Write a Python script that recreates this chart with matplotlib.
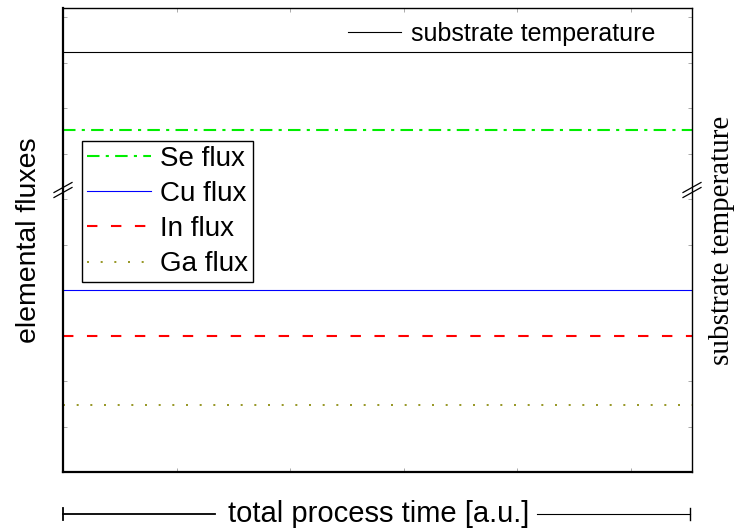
import matplotlib
matplotlib.use("Agg")
import matplotlib.pyplot as plt
from matplotlib.lines import Line2D
import numpy as np

# values (arbitrary units)
time_span = [0, 5.54]
substrate_temp = 9.23
flux_names = ["Se flux", "Cu flux", "In flux", "Ga flux"]
flux_levels = [7.52, 4.0, 2.99, 1.47]
flux_colors = ["#00ee00", "#0000ff", "#ff0000", "#858500"]

plt.rcParams["font.family"] = ["Liberation Sans", "DejaVu Sans"]

fig = plt.figure(figsize=(7.37, 5.29), dpi=100)
ax = fig.add_axes([63 / 737, 57 / 529, 629 / 737, 464 / 529])

# substrate temperature
t_line, = ax.plot(time_span, [substrate_temp] * 2, color="black", lw=0.8)

styles = [dict(lw=1.5, dashes=(6, 3, 1.5, 3)),
          dict(lw=0.8, linestyle="-"),
          dict(lw=1.5, dashes=(5, 6.5)),
          dict(lw=1.2, dashes=(1.2, 7.0))]
handles = []
for name, lvl, col, st in zip(flux_names, flux_levels, flux_colors, styles):
    h, = ax.plot(time_span, [lvl, lvl], color=col, label=name, **st)
    handles.append(h)

ax.set_xlim(time_span)
ax.set_ylim(0, 10.2)
ax.set_xticks(np.arange(0, 6))
ax.set_yticks(np.arange(0, 11))
ax.tick_params(direction="in", length=3, width=0.5, color="#888888",
               labelbottom=False, labelleft=False, top=True, right=True)
for s in ["left", "bottom"]:
    ax.spines[s].set_linewidth(1.6)
for s in ["top", "right"]:
    ax.spines[s].set_linewidth(1.0)

leg1 = ax.legend([t_line], ["substrate temperature"], loc="upper right",
                 bbox_to_anchor=(0.969, 1.008), frameon=False, fontsize=18,
                 handlelength=2.1, handletextpad=0.4, borderaxespad=0.3)
ax.add_artist(leg1)

leg2 = ax.legend(handles=handles, loc="upper left",
                 bbox_to_anchor=((82 - 63) / 629, (472 - 141) / 464),
                 fontsize=20, handlelength=2.3, handletextpad=0.35,
                 labelspacing=0.33, borderpad=0.17, borderaxespad=0,
                 fancybox=False, framealpha=1, edgecolor="black")
leg2.get_frame().set_linewidth(1.0)

# axis break marks
W, H = 629.0, 464.0
yb = (472 - 190) / H
for xb in [0, 1]:
    for off in [-2.5, 2.5]:
        ax.add_line(Line2D([xb - 9 / W, xb + 9 / W],
                           [yb + (off - 5) / H, yb + (off + 5) / H],
                           transform=ax.transAxes, color="black", lw=0.9,
                           clip_on=False))

ax.set_ylabel("elemental fluxes", fontsize=20.5, labelpad=15)
fig.text(722 / 737, 1 - 240 / 529, "substrate temperature", rotation=90,
         ha="center", va="center", fontsize=21, family="Liberation Serif")

# time arrow under the axes
ya = 1 - 514 / 529
fig.add_artist(Line2D([63 / 737, 215 / 737], [ya, ya], color="black", lw=1.3))
fig.add_artist(Line2D([537 / 737, 690 / 737], [ya, ya], color="black", lw=0.8))
fig.add_artist(Line2D([63 / 737] * 2, [ya - 6 / 529, ya + 6 / 529], color="black", lw=1.3))
fig.add_artist(Line2D([690 / 737] * 2, [ya - 6 / 529, ya + 6 / 529], color="black", lw=1.0))
fig.text(379 / 737, 1 - 522 / 529, "total process time [a.u.]", ha="center",
         va="baseline", fontsize=21)

fig.savefig("out.png", dpi=100)
